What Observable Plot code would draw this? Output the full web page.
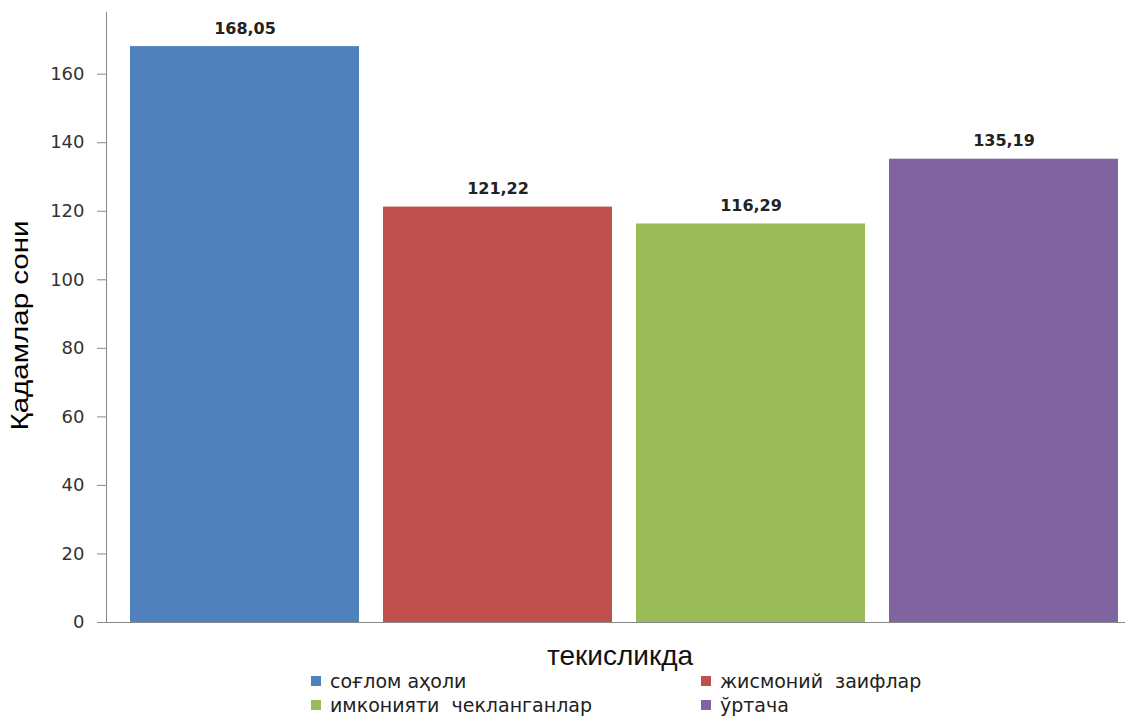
<!DOCTYPE html>
<html>
<head>
<meta charset="utf-8">
<script src="https://cdn.jsdelivr.net/npm/d3@7"></script>
<script src="https://cdn.jsdelivr.net/npm/@observablehq/plot@0.6"></script>
<style>
  html, body { margin: 0; padding: 0; background: #fff; }
  #wrap { position: relative; width: 1133px; height: 716px; overflow: hidden; }
  #chart { position: absolute; left: 0; top: 0; }
  #xtitle { position: absolute; top: 640px; left: 470px; width: 300px; text-align: center; line-height: 32px;
            font-family: "Liberation Sans", Arial, sans-serif; font-size: 28px; color: #111; }
  .leg { position: absolute; font-family: "DejaVu Sans", Verdana, sans-serif; font-size: 19px;
         color: #222; white-space: pre; line-height: 22px; }
  .leg span.sw { position: absolute; width: 10px; height: 10px; top: 6px; }
</style>
</head>
<body>
<div id="wrap">
  <div id="chart"></div>
  <div id="xtitle"></div>
</div>
<script>
const categories = ["соғлом аҳоли", "жисмоний  заифлар", "имконияти  чекланганлар", "ўртача"];
const values = [168.05, 121.22, 116.29, 135.19];
const valueLabels = ["168,05", "121,22", "116,29", "135,19"];
const colors = ["#4F81BD", "#C0504D", "#9BBB59", "#8064A2"];
const yTicks = [0, 20, 40, 60, 80, 100, 120, 140, 160];
const yTitle = "Қадамлар сони";
const xTitle = "текисликда";

const data = categories.map((c, i) => ({category: c, value: values[i], label: valueLabels[i]}));

const chart = Plot.plot({
  width: 1133,
  height: 640,
  marginLeft: 106,
  marginRight: 8,
  marginTop: 12,
  marginBottom: 18,
  style: {fontFamily: "DejaVu Sans, Verdana, sans-serif", fontSize: "18px", color: "#333", background: "#fff"},
  x: {domain: categories, paddingInner: 0.095, paddingOuter: 0.061, align: 0.77, axis: null},
  y: {domain: [0, 178], axis: null},
  color: {domain: categories, range: colors},
  marks: [
    Plot.barY(data, {x: "category", y: "value", fill: "category"}),
    Plot.axisY({ticks: yTicks, tickSize: 9, tickPadding: 13, label: null, stroke: "#888", fill: "#333", fontSize: 18}),
    Plot.frame({anchor: "left", stroke: "#888"}),
    Plot.ruleY([0], {stroke: "#888"}),
    Plot.text(data, {x: "category", y: "value", text: "label", dy: -13, lineAnchor: "bottom",
                     fontWeight: "bold", fontSize: 16, fill: "#222"}),
    Plot.text([yTitle], {frameAnchor: "left", textAnchor: "middle", rotate: -90, dx: -86, dy: 8, fontSize: 24,
                         fill: "#000", fontFamily: "Liberation Sans, Arial, sans-serif", className: "ytitle"})
  ]
});
document.getElementById("chart").appendChild(chart);
d3.select(chart).selectAll(".ytitle text")
  .attr("textLength", 210)
  .attr("lengthAdjust", "spacingAndGlyphs");
document.getElementById("xtitle").textContent = xTitle;

// legend (2 columns)
const wrap = document.getElementById("wrap");
const legPos = [[311, 670], [701, 670], [311, 694], [701, 694]];
categories.forEach((c, i) => {
  const d = document.createElement("div");
  d.className = "leg";
  d.style.left = legPos[i][0] + "px";
  d.style.top = legPos[i][1] + "px";
  d.style.paddingLeft = "19px";
  const sw = document.createElement("span");
  sw.className = "sw";
  sw.style.left = "0px";
  sw.style.background = colors[i];
  d.appendChild(sw);
  d.appendChild(document.createTextNode(c));
  wrap.appendChild(d);
});
</script>
</body>
</html>
